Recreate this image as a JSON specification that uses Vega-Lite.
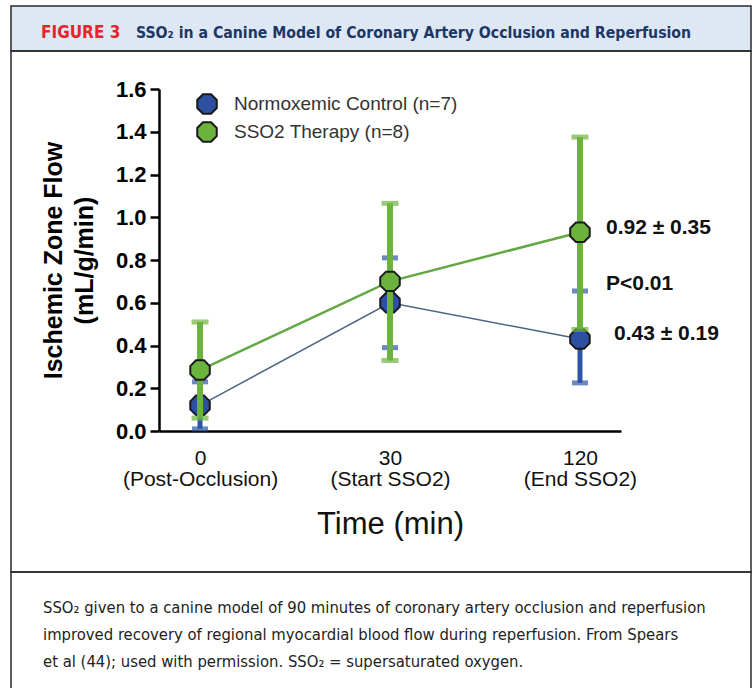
{
  "$schema": "https://vega.github.io/schema/vega-lite/v6.json",
  "padding": {"left": 10, "top": 5, "right": 4, "bottom": 0},
  "background": "white",
  "config": {"view": {"stroke": null}, "font": "Liberation Sans"},
  "datasets": {
    "flow": [
      {"group": "Normoxemic Control (n=7)", "time": "0", "mean": 0.12, "lo": 0.01, "hi": 0.23},
      {"group": "Normoxemic Control (n=7)", "time": "30", "mean": 0.6, "lo": 0.39, "hi": 0.81},
      {"group": "Normoxemic Control (n=7)", "time": "120", "mean": 0.43, "lo": 0.225, "hi": 0.655},
      {"group": "SSO2 Therapy (n=8)", "time": "0", "mean": 0.285, "lo": 0.06, "hi": 0.51},
      {"group": "SSO2 Therapy (n=8)", "time": "30", "mean": 0.7, "lo": 0.33, "hi": 1.065},
      {"group": "SSO2 Therapy (n=8)", "time": "120", "mean": 0.93, "lo": 0.475, "hi": 1.375}
    ],
    "notes": [
      {"time": "120", "y": 0.95, "label": "0.92 ± 0.35", "kind": "a"},
      {"time": "120", "y": 0.69, "label": "P<0.01", "kind": "a"},
      {"time": "120", "y": 0.455, "label": "0.43 ± 0.19", "kind": "b"}
    ],
    "header": [
      {"part": "fig", "text": "FIGURE 3"},
      {"part": "title", "text": "SSO₂ in a Canine Model of Coronary Artery Occlusion and Reperfusion"}
    ],
    "caption": [
      {"text": "SSO₂ given to a canine model of 90 minutes of coronary artery occlusion and reperfusion\nimproved recovery of regional myocardial blood flow during reperfusion. From Spears\net al (44); used with permission. SSO₂ = supersaturated oxygen."}
    ]
  },
  "spacing": 0,
  "bounds": "flush",
  "resolve": {"scale": {"color": "independent", "x": "independent", "y": "independent", "fill": "independent"}},
  "vconcat": [
    {
      "width": 740,
      "height": 45,
      "view": {"fill": "#dde8f4", "stroke": "#2a2a2a", "strokeWidth": 1.5},
      "data": {"name": "header"},
      "encoding": {
        "x": {"field": "part", "type": "nominal", "scale": {"type": "point", "domain": ["fig", "title"], "range": [30, 125], "padding": 0}, "axis": null},
        "text": {"field": "text", "type": "nominal"},
        "color": {"field": "part", "type": "nominal", "scale": {"domain": ["fig", "title"], "range": ["#e4262c", "#1c3765"]}, "legend": null}
      },
      "layer": [
        {
          "transform": [{"filter": "datum.part == 'fig'"}],
          "mark": {"type": "text", "align": "left", "baseline": "middle", "fontWeight": "bold", "fontSize": 17, "font": "'DejaVu Sans Condensed', 'Roboto Condensed', Roboto, sans-serif", "dy": 4}
        },
        {
          "transform": [{"filter": "datum.part == 'title'"}],
          "mark": {"type": "text", "align": "left", "baseline": "middle", "fontWeight": "bold", "fontSize": 15.7, "font": "'DejaVu Sans Condensed', 'Roboto Condensed', Roboto, sans-serif", "dy": 4}
        }
      ]
    },
    {
      "width": 740,
      "height": 521,
      "view": {"stroke": "#2a2a2a", "strokeWidth": 1.5},
      "data": {"name": "flow"},
      "encoding": {
        "x": {
          "field": "time", "type": "ordinal",
          "scale": {"type": "point", "domain": ["0", "30", "120"], "range": [148, 610], "padding": 0.216},
          "axis": {
            "offset": -141, "title": "Time (min)", "domain": true, "domainColor": "#000", "domainWidth": 2.5,
            "ticks": false, "labelAngle": 0, "labelFontSize": 21, "labelColor": "#111", "labelPadding": 16,
            "labelLineHeight": 21, "labelBaseline": "top",
            "labelExpr": "datum.value == '0' ? ['0', '(Post-Occlusion)'] : datum.value == '30' ? ['30', '(Start SSO2)'] : ['120', '(End SSO2)']",
            "titleFontSize": 31, "titleFontWeight": "normal", "titleColor": "#111", "titlePadding": 20
          }
        },
        "y": {
          "field": "mean", "type": "quantitative",
          "scale": {"domain": [0, 1.6], "range": [380, 38], "nice": false, "zero": false},
          "axis": {
            "offset": -148, "values": [0, 0.2, 0.4, 0.6, 0.8, 1.0, 1.2, 1.4, 1.6], "format": ".1f",
            "grid": false, "domainColor": "#000", "domainWidth": 2.5, "tickColor": "#000", "tickWidth": 2.5, "tickSize": 9,
            "labelFontSize": 22, "labelFontWeight": "bold", "labelColor": "#000", "labelPadding": 4,
            "title": ["Ischemic Zone Flow", "(mL/g/min)"], "titleFontSize": 25, "titleFontWeight": "bold",
            "titleColor": "#000", "titleLineHeight": 31, "titlePadding": 18
          }
        }
      },
      "layer": [
        {
          "transform": [{"filter": "datum.group == 'Normoxemic Control (n=7)'"}],
          "mark": {"type": "line", "color": "#4b6585", "strokeWidth": 1.5}
        },
        {
          "transform": [{"filter": "datum.group == 'SSO2 Therapy (n=8)'"}],
          "mark": {"type": "line", "color": "#64a844", "strokeWidth": 2.5}
        },
        {
          "transform": [{"filter": "datum.group == 'Normoxemic Control (n=7)'"}],
          "layer": [
            {"mark": {"type": "rule", "color": "#2f55a6", "strokeWidth": 5}, "encoding": {"y": {"field": "lo", "type": "quantitative"}, "y2": {"field": "hi"}}},
            {"mark": {"type": "tick", "color": "#2f55a6", "size": 16, "thickness": 5}, "encoding": {"y": {"field": "lo", "type": "quantitative"}}},
            {"mark": {"type": "tick", "color": "#2f55a6", "size": 16, "thickness": 5}, "encoding": {"y": {"field": "hi", "type": "quantitative"}}},
            {
              "mark": {"type": "point", "filled": true, "shape": "M-0.414,-1L0.414,-1L1,-0.414L1,0.414L0.414,1L-0.414,1L-1,0.414L-1,-0.414Z", "size": 380, "stroke": "#1a1a1a", "strokeWidth": 2, "opacity": 1},
              "encoding": {
                "fill": {
                  "field": "group", "type": "nominal",
                  "scale": {"domain": ["Normoxemic Control (n=7)", "SSO2 Therapy (n=8)"], "range": ["#2d51a0", "#6cb33e"]},
                  "legend": {
                    "orient": "none", "legendX": 185, "legendY": 42, "title": null, "padding": 0,
                    "symbolType": "M-0.414,-1L0.414,-1L1,-0.414L1,0.414L0.414,1L-0.414,1L-1,0.414L-1,-0.414Z",
                    "symbolSize": 380, "symbolStrokeColor": "#1a1a1a", "symbolStrokeWidth": 2, "symbolOpacity": 1,
                    "labelFontSize": 19, "labelColor": "#333", "labelOffset": 16, "rowPadding": 0, "labelLimit": 400
                  }
                }
              }
            }
          ]
        },
        {
          "transform": [{"filter": "datum.group == 'SSO2 Therapy (n=8)'"}],
          "layer": [
            {"mark": {"type": "rule", "color": "#6cb33e", "strokeWidth": 6}, "encoding": {"y": {"field": "lo", "type": "quantitative"}, "y2": {"field": "hi"}}},
            {"mark": {"type": "tick", "color": "#6cb33e", "size": 17, "thickness": 5}, "encoding": {"y": {"field": "lo", "type": "quantitative"}}},
            {"mark": {"type": "tick", "color": "#6cb33e", "size": 17, "thickness": 5}, "encoding": {"y": {"field": "hi", "type": "quantitative"}}},
            {
              "mark": {"type": "point", "filled": true, "shape": "M-0.414,-1L0.414,-1L1,-0.414L1,0.414L0.414,1L-0.414,1L-1,0.414L-1,-0.414Z", "size": 380, "stroke": "#1a1a1a", "strokeWidth": 2, "opacity": 1},
              "encoding": {
                "fill": {"field": "group", "type": "nominal"}
              }
            }
          ]
        },
        {
          "data": {"name": "notes"},
          "transform": [{"filter": "datum.kind == 'a'"}],
          "mark": {"type": "text", "align": "left", "baseline": "middle", "dx": 26, "fontSize": 21, "fontWeight": "bold", "color": "#111"},
          "encoding": {"y": {"field": "y", "type": "quantitative"}, "text": {"field": "label", "type": "nominal"}}
        },
        {
          "data": {"name": "notes"},
          "transform": [{"filter": "datum.kind == 'b'"}],
          "mark": {"type": "text", "align": "left", "baseline": "middle", "dx": 34, "fontSize": 21, "fontWeight": "bold", "color": "#111"},
          "encoding": {"y": {"field": "y", "type": "quantitative"}, "text": {"field": "label", "type": "nominal"}}
        }
      ]
    },
    {
      "width": 740,
      "height": 125,
      "view": {"stroke": "#2a2a2a", "strokeWidth": 1.5},
      "data": {"name": "caption"},
      "mark": {"type": "text", "align": "left", "baseline": "alphabetic", "lineBreak": "\n", "lineHeight": 27, "fontSize": 16.5, "font": "'DejaVu Sans Condensed', 'Roboto Condensed', Roboto, sans-serif", "color": "#222"},
      "encoding": {
        "x": {"datum": 0, "type": "quantitative", "scale": {"domain": [0, 1], "range": [32, 700]}, "axis": null},
        "y": {"datum": 0, "type": "quantitative", "scale": {"domain": [0, 1], "range": [41, 0]}, "axis": null},
        "text": {"field": "text", "type": "nominal"}
      }
    }
  ]
}
